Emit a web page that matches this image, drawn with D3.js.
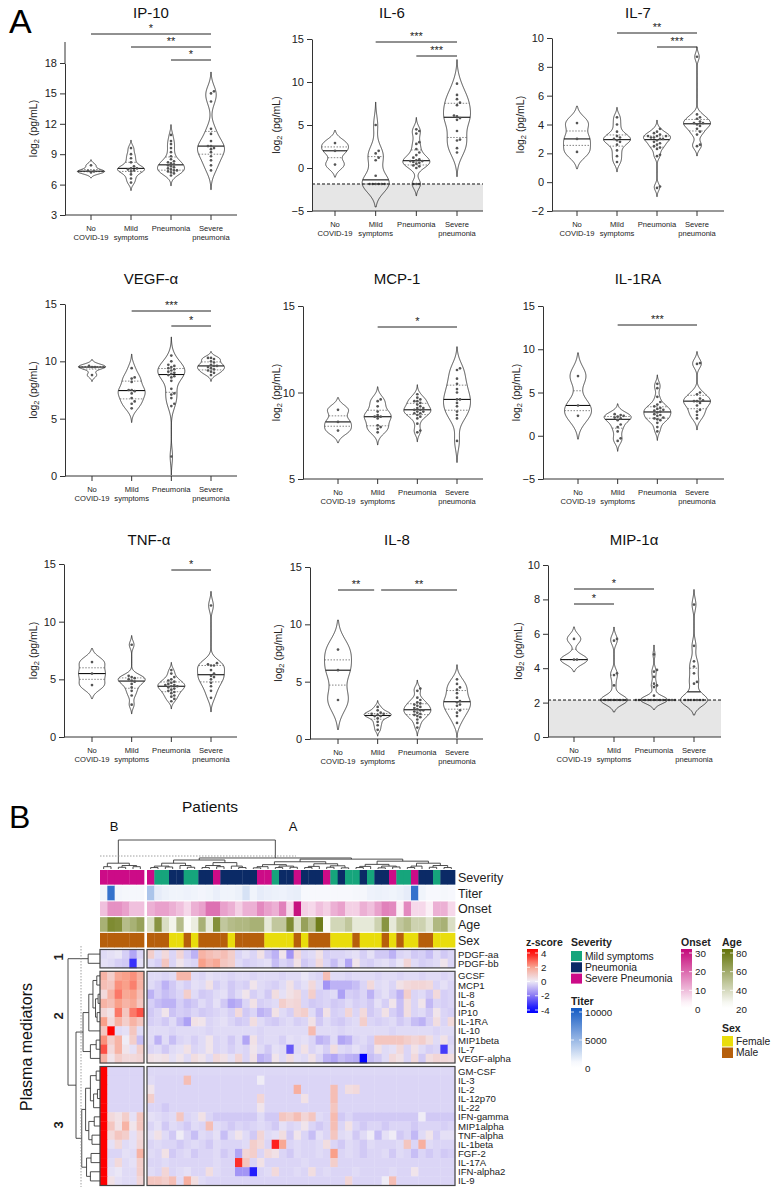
<!DOCTYPE html>
<html><head><meta charset="utf-8">
<script src="https://cdn.jsdelivr.net/npm/d3@7"></script>
<style>body{margin:0;background:#fff}svg{display:block}text{font-family:"Liberation Sans",Arial,sans-serif}</style>
</head><body><svg id="c" width="776" height="1191"></svg>
<script>
// ---------------- Panel A data ----------------
const groupLines = [["No","COVID-19"],["Mild","symptoms"],["Pneumonia"],["Severe","pneumonia"]];

const ip10 = [[7.2,7.3,7.35,7.9],
 [6.2,6.6,7.0,7.3,7.4,7.5,7.6,7.6,7.8,8.2,8.6,9.0,9.6],
 [6.9,7.1,7.2,7.3,7.4,7.4,7.5,7.6,7.7,7.8,7.9,8.0,8.1,8.2,8.3,8.5,8.8,9.2,9.6,10.0,10.3,10.9],
 [7.4,7.9,8.4,8.8,9.2,9.5,9.6,9.8,9.8,10.3,11.0,11.5,14.2,15.0,15.2]];
const il6 = [[0.4,2.0,2.9],
 [-1.86,-1.86,-1.86,-1.86,-1.86,-1.86,-0.9,0.9,1.2,1.7,2.0,5.0],
 [-1.86,-1.86,-1.86,0,0.2,0.3,0.5,0.6,0.7,0.8,0.8,0.9,1.0,1.2,1.5,1.8,2.2,2.8,3.0,4.0,4.3,4.5],
 [1.8,2.3,3.2,3.3,4.3,5.6,5.8,6.0,6.1,7.3,7.6,8.0,8.5,9.8]];
const il7 = [[2.1,3.0,4.1],
 [1.4,1.8,2.2,2.6,2.8,2.9,3.0,3.1,3.2,3.5,4.0,4.5],
 [-0.4,-0.3,1.8,1.9,2.3,2.4,2.5,2.6,2.7,2.8,2.9,3.0,3.0,3.1,3.1,3.2,3.2,3.2,3.3,3.4,3.5,3.7],
 [2.5,2.6,3.3,3.5,3.7,3.9,4.0,4.1,4.1,4.2,4.4,4.5,4.7,8.7]];
const vegf = [[8.8,9.5,9.5,9.6],
 [5.9,6.3,6.5,6.8,7.2,7.4,7.5,7.5,8.2,8.5,8.6,9.4],
 [1.7,6.1,6.3,6.8,7.1,7.2,7.6,8.3,8.6,8.7,8.8,8.9,9.0,9.1,9.2,9.3,9.4,9.5,9.6,9.7,10.0,10.5],
 [8.8,9.0,9.1,9.2,9.3,9.4,9.5,9.6,9.6,9.7,9.9,10.0,10.2,10.3,10.3]];
const mcp1 = [[7.8,8.3,9.0],
 [7.7,7.9,8.0,8.1,8.5,8.6,8.6,8.7,8.9,9.2,9.5,9.6],
 [7.7,7.8,8.2,8.5,8.6,8.7,8.8,8.8,8.9,8.9,9.0,9.0,9.1,9.1,9.2,9.3,9.4,9.5,9.5,9.6,9.7,9.9],
 [7.2,8.5,8.7,8.9,9.2,9.4,9.6,9.6,10.0,10.2,10.5,10.8,11.3,11.4]];
const il1ra = [[2.3,3.5,6.9],
 [-0.6,-0.3,0.5,1.0,1.3,1.8,2.0,2.1,2.2,2.3,2.4,2.5],
 [0.5,1.0,1.5,1.8,1.9,2.0,2.1,2.3,2.4,2.5,2.7,2.8,2.9,3.0,3.1,3.2,3.4,3.6,3.9,4.5,5.5,6.0],
 [2.0,2.4,2.8,3.0,3.5,3.8,4.0,4.0,4.1,4.3,4.8,5.0,8.3,8.4]];
const tnf = [[4.5,5.5,6.5],
 [2.8,3.6,4.0,4.3,4.6,4.8,4.9,5.0,5.1,5.2,5.3,8.0],
 [3.1,3.3,3.5,3.6,3.8,3.9,4.0,4.1,4.2,4.3,4.4,4.4,4.5,4.5,4.6,4.7,4.8,4.9,5.0,5.2,5.5,5.8],
 [3.4,4.0,4.4,4.7,5.0,5.2,5.3,5.5,5.8,6.2,6.2,6.3,6.4,11.4]];
const il8 = [[3.4,6.0,7.8],
 [0.8,1.2,1.5,1.8,2.0,2.0,2.1,2.2,2.2,2.3,2.5,2.8],
 [1.0,1.4,1.7,1.9,2.0,2.1,2.2,2.3,2.4,2.5,2.5,2.6,2.7,2.8,2.9,3.0,3.1,3.2,3.4,3.6,4.2,4.4],
 [1.4,2.0,2.3,2.5,2.9,3.0,3.2,3.3,3.6,4.0,4.3,4.5,4.8,5.2]];
const mip1a = [[4.5,4.5,5.7],
 [2.15,2.15,2.15,2.15,2.15,2.15,2.15,2.15,3.0,3.6,3.7,5.6,5.7],
 [2.15,2.15,2.15,2.15,2.15,2.15,2.15,2.15,2.15,2.15,2.15,2.15,2.15,2.15,2.4,2.9,3.0,3.1,3.5,3.8,3.9,4.8],
 [2.15,2.15,2.15,2.15,2.15,2.15,2.15,3.1,3.2,3.7,4.1,4.4,5.3,7.7]];

const sigIp10 = [[0,3,"*"],[1,3,"**"],[2,3,"*"]];
const sigIl6 = [[1,3,"***"],[2,3,"***"]];
const sigIl7 = [[1,3,"**"],[2,3,"***"]];
const sigVegf = [[1,3,"***"],[2,3,"*"]];
const sigMcp1 = [[1,3,"*"]];
const sigIl1ra = [[1,3,"***"]];
const sigTnf = [[2,3,"*"]];
const sigIl8 = [[0,1,"**"],[1,3,"**"]];
const sigMip = [[0,1,"*"],[0,2,"*"]];

// ---------------- Panel B data ----------------
const rowNames = ["PDGF-aa","PDGF-bb","GCSF","MCP1","IL-8","IL-6","IP10","IL-1RA","IL-10","MIP1beta","IL-7","VEGF-alpha",
 "GM-CSF","IL-3","IL-2","IL-12p70","IL-22","IFN-gamma","MIP1alpha","TNF-alpha","IL-1beta","FGF-2","IL-17A","IFN-alpha2","IL-9"];
const rowGroupSizes = [2,10,13];
const zRows = [
 [-0.3,-0.2,-0.1,-0.5,-1.2,-0.4, 0.8,-0.3,0.5,-0.4,0.6,-0.5,-1.0,1.5,1.2,1.0,1.2,0.8,-0.4,-0.2,-0.4,0.3,-0.6,-1.0,0.2,-1.5,0.5,-0.4,-0.3,0.3,-0.5,-0.4,-0.4,-0.3,-0.2,-0.5,-0.2,-0.6,-0.6,-1.0,-0.4,-0.3,-0.6,-0.5,-0.8,-0.3,-0.6,-0.4],
 [-0.2,-0.3,-0.5,-0.6,-3.2,-0.2, -0.3,-0.5,1.0,-0.4,0.2,-0.3,-0.4,2.0,1.5,1.8,1.0,0.8,-0.3,-0.5,-0.4,-0.3,-0.2,-0.8,-0.4,-0.6,0.3,-0.6,-0.4,0.5,-0.4,-0.8,-0.3,-1.2,0.2,-0.4,-0.5,-0.3,-0.2,-0.4,-0.1,0.6,-0.3,-0.5,-0.4,-0.3,0.2,-0.4],
 [1.5,0.8,1.8,2.0,2.2,1.6, -0.3,-0.3,-0.4,-0.3,1.4,1.4,-0.3,-0.4,-0.2,-0.3,-0.3,-0.4,-0.3,-0.3,-0.4,-0.3,-0.3,-0.3,-0.4,-0.3,-0.3,-0.1,-0.3,-0.4,1.2,-0.3,-0.3,-0.4,-0.3,-0.3,-0.3,-0.4,-0.3,-0.3,-0.4,-0.3,-0.3,-0.4,-0.3,-0.3,-0.4,-0.3],
 [1.2,1.0,2.2,2.0,2.4,1.5, -0.3,-0.5,-1.0,-0.6,-0.3,-0.5,-0.2,-0.3,0.3,-0.5,-0.3,-0.6,-0.4,-0.5,0.2,-0.3,-0.4,-0.5,-0.3,0.3,-0.4,-0.2,0.5,-0.3,-1.5,-1.0,-1.0,-1.0,-0.8,-0.4,0.5,-0.3,-0.2,-0.4,0.3,0.5,0.6,0.6,0.5,-0.4,-0.2,-0.4],
 [0.5,1.5,2.5,1.8,2.0,1.2, -1.0,-0.5,-0.8,-0.6,-0.4,0.8,-0.3,-0.6,-0.5,-0.3,-0.2,-0.6,-0.3,0.2,-0.5,-0.3,-0.6,0.4,-0.2,0.3,0.5,-0.4,0.8,-0.5,-0.4,-0.3,-1.3,-0.5,-0.6,-0.4,-1.0,-0.4,-0.2,-0.5,-1.0,0.8,-0.4,-0.3,-0.6,0.5,-0.5,-0.4],
 [1.5,1.2,2.0,1.5,1.8,1.0, -0.5,-0.8,-1.0,-1.0,-0.5,-0.8,-0.6,-0.3,-0.5,-0.2,-0.6,-1.2,-1.0,-0.4,0.3,-0.5,-0.4,-0.3,0.8,0.5,0.6,-0.4,-0.6,-0.5,-0.4,-0.6,-0.5,-0.3,-0.5,-0.4,-0.6,-0.2,-0.5,0.2,-0.8,0.4,-0.4,0.2,-0.9,-0.4,-0.5,-0.4],
 [0.6,0.3,2.5,1.0,2.5,3.0, -0.6,-0.4,0.2,-0.7,-0.5,-0.6,-0.4,-0.6,-0.5,-0.4,-0.3,-0.5,0.5,-0.6,-0.4,-1.0,-0.8,0.3,-0.3,-0.5,0.6,0.8,-0.3,-0.8,0.3,-0.5,-0.4,0.6,-0.4,0.5,-0.6,-0.4,0.3,-0.5,-0.8,0.4,-0.4,-0.3,-0.6,0.2,-0.4,-0.5],
 [2.0,0.5,1.5,0.8,1.5,1.0, -0.5,-0.4,-0.6,-0.3,-0.8,-1.3,0.3,0.2,-0.4,-0.3,-0.2,-0.4,-0.6,-0.5,0.4,-0.3,-0.5,-0.6,-0.4,-0.3,-0.5,-0.4,0.3,-0.6,-0.3,-0.5,-0.6,-0.4,-0.3,0.8,-0.4,-0.5,-0.4,-0.3,-0.6,-0.4,-0.8,-1.0,-0.5,0.4,-0.4,0.5],
 [1.0,4.0,-0.3,-0.2,1.0,-0.3, -0.3,-0.3,-0.3,-0.4,-0.3,-0.3,-0.3,-0.3,-0.4,-0.3,-0.3,-0.3,-0.3,-0.3,-0.3,-0.4,-0.3,-0.3,-0.3,-0.3,-0.3,-0.3,1.3,-0.3,-0.3,-0.3,-0.4,-0.3,-0.3,-0.3,-0.3,-0.3,-0.3,-0.4,-0.3,-0.3,-0.3,-0.3,-0.3,-0.4,-0.3,-0.3],
 [2.2,0.8,1.5,0.0,0.8,-0.8, -0.3,-1.0,-0.3,-0.8,-0.4,-0.3,-0.5,-0.3,0.2,-0.4,-0.3,-0.6,-0.3,-1.2,0.3,-0.4,-0.3,-0.3,-0.5,-0.2,-0.3,-0.2,-0.4,-1.0,-0.8,-0.3,-1.2,-1.0,-0.4,-0.3,-0.5,1.0,1.0,1.0,1.0,0.8,0.6,0.8,0.4,-0.3,0.3,-0.4],
 [3.0,0.5,1.5,0.2,-0.2,0.8, -0.4,-0.3,-0.6,-0.3,-0.2,0.3,-0.4,-0.3,0.2,-0.4,-0.3,-0.5,-0.3,-0.4,0.2,-0.3,-0.6,-0.2,-0.3,-2.5,-0.3,0.3,-0.4,-0.2,-0.5,0.4,-0.3,-0.4,-0.2,-0.4,-0.6,0.3,-0.3,-0.2,0.5,-0.4,0.3,-0.3,-0.5,-0.4,-3.0,-0.3],
 [1.5,0.2,0.8,0.5,0.5,0.6, 0.3,0.2,0.3,-0.2,0.2,-0.3,0.4,0.2,-0.3,0.5,0.3,-0.2,0.6,-0.4,0.3,-1.0,-0.8,0.2,-0.3,0.4,-0.2,-0.3,0.3,-0.4,-1.0,-1.2,-0.8,-1.0,-1.1,-4.0,-0.8,-0.6,-0.3,0.5,0.3,-0.4,0.5,-0.6,0.4,0.6,0.5,0.4],
 [4,-0.4,-0.4,-0.4,-0.4,-0.4, -0.35,-0.35,-0.35,-0.35,-0.35,-0.35,-0.35,-0.35,-0.35,-0.35,-0.35,-0.35,-0.35,-0.35,-0.35,-0.35,-0.35,-0.35,-0.35,-0.35,-0.35,-0.35,-0.35,-0.35,-0.35,-0.35,-0.35,-0.35,-0.35,-0.35,-0.35,-0.35,-0.35,-0.35,-0.35,-0.35,-0.35,-0.35,-0.35,-0.35,-0.35,-0.35],
 [4,-0.4,-0.4,-0.4,-0.4,-0.4, -0.3,-0.4,-0.4,-0.4,-0.4,1.2,-0.4,-0.4,-0.4,-0.4,-0.4,-0.4,-0.4,-0.4,-0.4,0.0,-0.4,-0.4,-0.4,-0.4,-0.4,-0.4,-0.4,-0.4,-0.4,-0.4,-0.4,-0.4,-0.4,-0.4,-0.4,-0.4,-0.4,-0.4,-0.4,-0.4,-0.4,-0.4,-0.4,-0.4,-0.4,-0.4],
 [4,-0.4,-0.4,-0.4,-0.4,-0.4, 0.2,-0.4,-0.4,-0.4,-0.4,-0.4,-0.4,-0.4,-0.4,-0.4,-0.4,-0.4,-0.4,-0.4,-0.4,-0.4,-0.4,-0.4,-0.4,-0.4,1.6,-0.4,-0.4,-0.4,-0.4,1.2,-0.4,0.4,0.5,-0.4,-0.4,-0.4,-0.4,-0.4,-0.4,-0.4,-0.4,-0.4,-0.4,-0.4,-0.4,-0.4],
 [4,-0.4,-0.4,-0.4,-0.4,-0.4, 0.8,-0.4,-0.4,-0.4,-0.4,-0.4,-0.4,-0.4,-0.4,-0.4,-0.4,-0.4,-0.4,-0.4,-0.4,0.6,-0.4,-0.4,-0.4,-0.4,-0.4,0.3,-0.4,-0.4,-0.4,1.2,-0.4,-0.4,-0.4,-0.4,-0.4,-0.4,-0.4,-0.4,-0.4,-0.4,-0.4,-0.4,-0.4,-0.4,-0.4,-0.4],
 [4,-0.4,-0.4,-0.4,-0.4,-0.4, -0.4,-0.4,-0.6,-0.4,-0.4,-0.4,-0.4,-0.4,-0.4,-0.4,-0.4,-0.4,-0.4,-0.4,-0.4,0.2,-0.4,-0.4,-0.4,-0.4,-0.4,-0.4,-0.4,-0.4,-0.4,1.0,-0.4,-0.4,-0.4,-0.4,-0.4,-0.4,-0.4,-0.4,-0.4,-0.4,-0.4,-0.4,-0.4,-0.4,-0.4,-0.4],
 [4,0.5,0.3,0.8,-0.2,1.0, -0.2,-0.3,-0.4,-0.3,1.0,-0.4,-0.3,0.3,-0.4,-0.6,-0.6,-0.6,-0.6,-0.6,-0.6,-0.3,-0.6,-0.6,1.0,0.8,1.2,0.6,1.0,-0.3,-0.4,1.3,-0.6,-0.4,-0.6,-0.6,-0.6,-0.6,-0.6,-0.6,-0.6,-0.6,-0.6,0.0,-0.6,-0.6,-0.6,-0.6],
 [4,1.0,0.3,1.5,0.2,1.0, -0.4,-0.2,-0.6,-0.3,-0.4,-0.6,-0.3,-0.4,1.2,-0.3,-0.4,-0.6,-0.4,-0.5,-0.4,-0.3,-0.4,-0.6,-0.2,-0.4,-0.3,0.2,-0.4,-0.6,-0.4,1.2,-0.4,0.3,-0.4,-0.6,-0.4,-0.4,-0.6,-0.4,-0.4,-0.4,-0.6,-0.4,-0.4,-0.4,-0.5,-0.4],
 [4,0.5,1.0,0.8,-0.2,0.5, -0.2,0.3,-0.3,-0.6,0.0,-0.4,-0.8,-0.3,-0.4,-0.2,-0.8,-0.3,0.2,-0.3,-0.6,0.6,-0.3,-0.2,0.4,-0.6,0.2,-0.4,-0.8,-0.2,-0.4,1.0,-0.3,-0.2,-0.6,-0.3,0.0,-0.8,-0.2,0.0,-0.6,-0.4,-0.9,-0.3,0.2,-0.5,-0.2,-0.2],
 [4,-0.2,0.5,-0.3,-0.2,0.6, -0.4,-0.3,-0.4,-0.4,-0.6,-0.4,-0.3,-0.4,-0.6,-0.3,-0.4,-0.4,-0.4,-0.3,0.8,0.5,-0.4,3.6,1.8,-0.4,-0.3,-0.4,-0.4,-0.3,0.4,-0.4,-0.6,-0.3,-0.4,-0.6,-0.3,-0.4,-0.4,-0.4,-0.3,1.0,-0.4,1.6,-0.3,-0.4,-0.4,-0.4],
 [4,-0.4,-0.4,-0.2,-0.3,1.5, -0.3,-0.4,0.3,-0.6,-0.4,-0.3,-0.6,-0.4,-0.4,-0.3,-0.6,-0.4,-1.2,0.6,0.8,-0.4,0.5,0.3,-0.4,-0.6,-0.3,-0.4,-0.4,-0.3,-0.4,2.0,-0.4,-0.3,-0.4,-0.6,-0.4,-0.4,-0.3,-0.6,-0.3,-0.4,-0.8,-0.4,-0.6,-0.4,-0.6,-0.5],
 [4,-0.3,0.5,-0.3,-0.2,0.8, -0.4,-0.4,-0.3,-0.4,-0.4,-0.4,-0.4,-0.4,-0.4,-0.3,-0.4,-0.4,3.4,1.0,-0.4,0.3,-0.4,-0.4,-0.4,-0.4,-0.4,-0.3,-0.4,-0.4,-0.4,0.8,-0.4,-0.4,-0.4,-0.4,-0.4,-0.4,-0.4,-0.4,-0.4,-0.4,-0.4,-0.4,-0.4,-0.4,-0.4,-0.4],
 [4,-0.2,-0.1,-0.3,-0.3,0.8, -0.3,-0.4,0.6,-0.4,-0.3,-0.2,-0.4,-0.4,0.4,-0.3,-0.4,-0.4,-1.5,-1.5,-3.5,-0.4,-0.3,0.5,-0.4,-0.4,-0.3,-0.4,0.4,-0.4,-0.3,-0.4,-0.4,-0.4,-0.3,-0.4,-0.4,-0.4,-0.4,-0.3,-0.4,-0.4,0.2,-0.4,-0.4,-0.4,-0.4,-0.4],
 [4,0.3,-0.2,-0.3,-0.3,0.6, 1.0,1.0,0.8,1.2,-0.3,1.6,0.4,-0.3,-0.4,-0.4,-0.4,-0.4,-0.4,-0.4,-0.4,-0.4,-0.4,-0.4,-0.4,-0.4,-0.4,-0.4,-0.4,-0.4,-0.4,-0.4,-0.4,0.6,-0.4,-0.4,-0.4,-0.4,0.0,1.2,-0.4,-0.4,-0.4,-0.4,-0.4,-0.4,-0.4,-0.4]
];
// annotations (48 patients: 6 in cluster B, 42 in cluster A)
const severityNames = ["Mild symptoms","Pneumonia","Severe Pneumonia"];
const severity = [2,2,2,2,2,2, 2,0,0,1,1,0,0,1,1,2,1,1,1,1,1,2,2,0,1,1,2,1,1,1,2,0,1,0,0,1,0,1,1,2,0,0,2,1,1,0,1,1];
const titer = [300,9000,200,100,100,100, 3500,800,500,300,300,400,300,200,300,600,300,300,500,1500,300,800,600,500,400,600,700,0,0,0,0,0,0,0,100,100,400,500,400,300,500,800,9000,300,0,0,100,0];
const onset = [8,14,14,12,8,8, 10,12,12,10,8,5,10,12,18,18,12,10,6,10,10,15,12,10,16,5,30,6,5,8,6,10,12,6,6,10,8,12,16,15,2,15,5,5,2,10,10,5];
const age = [55,72,70,50,55,62, 35,68,35,25,50,22,28,55,30,70,45,50,52,52,55,55,30,45,45,72,35,62,50,78,22,38,38,45,30,30,30,40,68,30,45,50,40,40,32,52,55,35];
const sexNames = ["Female","Male"];
const sex = [1,1,1,1,1,1, 1,1,1,0,0,1,0,1,1,1,1,0,1,1,1,1,0,0,0,0,1,0,1,1,1,0,0,0,1,0,0,0,1,0,1,0,0,1,1,0,0,0];
// dendrograms: [height, left, right]; leaves = index
const colTree = [1.0,
  [0.2,[0.08,0,1],[0.12,[0.06,2,3],[0.08,4,5]]],
  [0.38,
    [0.31,[0.2,[0.1,[0.05,6,7],[0.07,8,9]],[0.12,10,[0.06,11,12]]],[0.22,[0.12,[0.05,13,14],[0.08,15,16]],[0.1,17,[0.05,18,19]]]],
    [0.34,
      [0.25,[0.15,[0.08,[0.04,20,21],22],[0.1,[0.05,23,24],[0.06,25,26]]],[0.18,[0.09,[0.05,27,28],29],[0.11,[0.06,30,31],[0.04,32,33]]]],
      [0.27,[0.16,[0.09,[0.05,34,35],36],[0.1,[0.04,37,38],[0.07,39,40]]],[0.2,[0.1,[0.05,41,42],43],[0.12,[0.06,44,45],[0.05,46,47]]]]]]];
const rowTree = [1.0,
  [0.37,0,1],
  [0.75,
    [0.53,[0.35,[0.22,[0.1,2,3],[0.14,[0.06,4,5],[0.09,6,7]]],8],[0.3,[0.12,9,10],11]],
    [0.57,[0.45,[0.3,[0.12,12,13],[0.2,[0.08,14,15],16]],[0.35,[0.18,17,18],[0.25,19,20]]],[0.42,[0.28,21,22],[0.3,23,24]]]]];

// ---------------- drawing ----------------
const svg = d3.select("#c");

function bandwidth(v, scale){
  const s = d3.deviation(v) || 0.4;
  const so = [...v].sort(d3.ascending);
  const iqr = (d3.quantile(so,.75)-d3.quantile(so,.25))/1.34;
  const a = iqr>0 ? Math.min(s,iqr) : s;
  return Math.max(0.78*(scale||1)*a*Math.pow(v.length,-0.2), 0.22);
}

const panels = [
 {title:"IP-10", data:ip10, domain:[3,18], ticks:[3,6,9,12,15,18], axisX:65, cats:[91,211], endX:237, yTop:63, yBot:215, lineTop:42, titleX:151, titleY:18, ytOff:32, sig:sigIp10, sigY:[34,47,60]},
 {title:"IL-6", data:il6, domain:[-5,15], ticks:[-5,0,5,10,15], axisX:312, cats:[335,457], endX:483, yTop:39, yBot:211, titleX:392, titleY:18, ytOff:36, sig:sigIl6, sigY:[42,56], lod:-1.86},
 {title:"IL-7", data:il7, domain:[-2,10], ticks:[-2,0,2,4,6,8,10], axisX:552, cats:[577,697], endX:724, yTop:38, yBot:211, titleX:638, titleY:18, ytOff:32, sig:sigIl7, sigY:[33,47]},
 {title:"VEGF-α", data:vegf, domain:[0,15], ticks:[0,5,10,15], axisX:65, cats:[92,211], endX:237, yTop:304, yBot:476, titleX:151, titleY:284, ytOff:32, sig:sigVegf, sigY:[311,326]},
 {title:"MCP-1", data:mcp1, domain:[5,15], ticks:[5,10,15], axisX:303, cats:[338,457], endX:483, yTop:306, yBot:479, titleX:397, titleY:284, ytOff:27, sig:sigMcp1, sigY:[327]},
 {title:"IL-1RA", data:il1ra, domain:[-5,15], ticks:[-5,0,5,10,15], axisX:543, cats:[578,697], endX:724, yTop:306, yBot:479, titleX:638, titleY:284, ytOff:27, sig:sigIl1ra, sigY:[325]},
 {title:"TNF-α", data:tnf, domain:[0,15], ticks:[0,5,10,15], axisX:64, cats:[92,211], endX:237, yTop:564, yBot:737, titleX:149, titleY:545, ytOff:31, sig:sigTnf, sigY:[570]},
 {title:"IL-8", data:il8, domain:[0,15], ticks:[0,5,10,15], axisX:310, cats:[338,457], endX:483, yTop:567, yBot:739, titleX:397, titleY:545, ytOff:32, sig:sigIl8, sigY:[590,590], sigInset:[[0,3.5],[3.5,0]]},
 {title:"MIP-1α", data:mip1a, domain:[0,10], ticks:[0,2,4,6,8,10], axisX:548, cats:[574,694], endX:721, yTop:565, yBot:737, titleX:634, titleY:545, ytOff:30, sig:sigMip, sigY:[604,589], lod:2.15, bwScale:0.55}
];

function drawPanel(p){
  const g = svg.append("g");
  const ys = d3.scaleLinear().domain(p.domain).range([p.yBot,p.yTop]);
  const xs = d3.scalePoint().domain(d3.range(4)).range(p.cats);
  if (p.lod!=null){
    g.append("rect").attr("x",p.axisX).attr("y",ys(p.lod)).attr("width",p.endX-p.axisX)
     .attr("height",p.yBot-ys(p.lod)).attr("fill","#e6e6e6");
  }
  p.data.forEach((vals,i)=>{
    const cx = xs(i);
    const bw = bandwidth(vals, i===0?1:p.bwScale);
    const lo = Math.max(d3.min(vals)-2.5*bw, p.domain[0]);
    const hi = Math.min(d3.max(vals)+2.5*bw, p.domain[1]+3);
    const n = 200;
    const dens = y => d3.mean(vals, v=>Math.exp(-0.5*((y-v)/bw)**2));
    const pts = d3.range(n+1).map(k=>{ const y = lo+(hi-lo)*k/n; return [y, dens(y)]; });
    const mx = d3.max(pts,d=>d[1]);
    const W = 13.5;
    const wAt = y => W*dens(y)/mx;
    const area = d3.area().y(d=>ys(d[0])).x0(d=>cx-W*d[1]/mx).x1(d=>cx+W*d[1]/mx).curve(d3.curveBasis);
    g.append("path").attr("d",area(pts)).attr("fill","none").attr("stroke","#222").attr("stroke-width",0.8);
    const so=[...vals].sort(d3.ascending);
    const q1=d3.quantile(so,.25), md=d3.median(so), q3=d3.quantile(so,.75);
    [[q1,true],[q3,true],[md,false]].forEach(([q,dot])=>{
      const w=wAt(q);
      g.append("line").attr("x1",cx-w).attr("x2",cx+w).attr("y1",ys(q)).attr("y2",ys(q))
       .attr("stroke",dot?"#666":"#111").attr("stroke-width",dot?0.8:1.1)
       .attr("stroke-dasharray",dot?"1.5,1.5":null);
    });
    const placed=[];
    so.forEach(v=>{
      const py=ys(v); let off=0;
      for(let k=0;k<40;k++){
        const cand = k===0?0:(k%2? 1:-1)*Math.ceil(k/2)*3;
        if(!placed.some(q=>Math.hypot(q[0]-cand,q[1]-py)<2.9)){off=cand;break;}
      }
      placed.push([off,py]);
      g.append("circle").attr("cx",cx+off).attr("cy",py).attr("r",1.35).attr("fill","#555");
    });
  });
  if (p.lod!=null){
    g.append("line").attr("x1",p.axisX).attr("x2",p.endX).attr("y1",ys(p.lod)).attr("y2",ys(p.lod))
     .attr("stroke","#111").attr("stroke-width",1).attr("stroke-dasharray","3,2");
  }
  const ya = g.append("g").attr("transform",`translate(${p.axisX},0)`)
    .call(d3.axisLeft(ys).tickValues(p.ticks).tickSize(5).tickSizeOuter(0).tickFormat(d3.format("d")));
  ya.selectAll("text").attr("font-size",11).attr("fill","#222").attr("font-family",'"Liberation Sans",Arial,sans-serif');
  ya.selectAll("line,path").attr("stroke","#333");
  if (p.lineTop!=null) g.append("line").attr("x1",p.axisX).attr("x2",p.axisX).attr("y1",p.lineTop).attr("y2",p.yTop).attr("stroke","#333");
  g.append("line").attr("x1",p.axisX).attr("x2",p.endX).attr("y1",p.yBot).attr("y2",p.yBot).attr("stroke","#333");
  d3.range(4).forEach(i=>{
    g.append("line").attr("x1",xs(i)).attr("x2",xs(i)).attr("y1",p.yBot).attr("y2",p.yBot+5).attr("stroke","#333");
    groupLines[i].forEach((t,j)=>{
      g.append("text").attr("x",xs(i)).attr("y",p.yBot+16+j*9).attr("text-anchor","middle")
       .attr("font-size",7.6).attr("fill","#222").text(t);
    });
  });
  g.append("text").attr("x",p.titleX).attr("y",p.titleY).attr("text-anchor","middle").attr("font-size",15).attr("fill","#111").text(p.title);
  const yMid = ((p.lineTop!=null?p.lineTop:p.yTop)+p.yBot)/2;
  const yt = g.append("text").attr("transform",`translate(${p.axisX-p.ytOff},${yMid}) rotate(-90)`)
    .attr("text-anchor","middle").attr("dominant-baseline","central").attr("font-size",10.5).attr("fill","#222");
  yt.append("tspan").text("log");
  yt.append("tspan").attr("font-size",7.5).attr("dy",3).text("2");
  yt.append("tspan").attr("dy",-3).text(" (pg/mL)");
  p.sig.forEach(([a,b,lab],k)=>{
    const ins = p.sigInset? p.sigInset[k]:[0,0];
    const x1=xs(a)+ins[0], x2=xs(b)-ins[1], y=p.sigY[k];
    g.append("line").attr("x1",x1).attr("x2",x2).attr("y1",y).attr("y2",y).attr("stroke","#222").attr("stroke-width",1);
    g.append("text").attr("x",(x1+x2)/2).attr("y",y-2.5).attr("text-anchor","middle").attr("font-size",11).attr("fill","#222").text(lab);
  });
}
panels.forEach(drawPanel);

svg.append("text").attr("x",9).attr("y",33).attr("font-size",34).attr("fill","#000").text("A");
svg.append("text").attr("x",9).attr("y",828).attr("font-size",32).attr("fill","#000").text("B");

// ---------- heatmap ----------
const leftX = d3.scaleLinear().domain([0,6]).range([100,144]);
const rightX = d3.scaleLinear().domain([0,42]).range([147,455]);
const colX = i => i<6 ? leftX(i) : rightX(i-6);
const colW = i => i<6 ? leftX(1)-leftX(0) : rightX(1)-rightX(0);
const groupRanges = [[949.5,967.9],[971.3,1063],[1066.5,1185.5]];
const rowPos = [];
rowGroupSizes.forEach((n,gi)=>{
  const s=d3.scaleLinear().domain([0,n]).range(groupRanges[gi]);
  for(let k=0;k<n;k++) rowPos.push({y:s(k),h:s(1)-s(0),g:gi});
});
const zColor = d3.scaleLinear().domain([-4,-2,0,2,4]).range(["#0000ff","#8a78f4","#efecf6","#f9a08a","#ff0000"]).clamp(true);
const hm = svg.append("g");
zRows.forEach((row,ri)=>{
  row.forEach((v,ci)=>{
    hm.append("rect").attr("x",colX(ci)).attr("y",rowPos[ri].y).attr("width",colW(ci)+0.35).attr("height",rowPos[ri].h+0.35)
      .attr("fill",zColor(v));
  });
  hm.append("text").attr("x",458).attr("y",rowPos[ri].y+rowPos[ri].h/2).attr("dominant-baseline","central")
    .attr("font-size",9.6).attr("fill","#222").text(rowNames[ri]);
});
groupRanges.forEach(gr=>{
  [[100,144],[147,455]].forEach(xr=>{
    hm.append("rect").attr("x",xr[0]).attr("y",gr[0]).attr("width",xr[1]-xr[0]).attr("height",gr[1]-gr[0])
      .attr("fill","none").attr("stroke","#444").attr("stroke-width",1.2);
  });
});

const sevColor = d3.scaleOrdinal().domain([0,1,2]).range(["#16a57c","#0b2a66","#cc0b87"]);
const titerColor = d3.scaleLinear().domain([0,10000]).range(["#f7f8fd","#1e62c6"]);
const onsetColor = d3.scaleLinear().domain([0,30]).range(["#ffffff","#c7137f"]);
const ageColor = d3.scaleLinear().domain([20,80]).range(["#ffffff","#6a7913"]);
const sexColor = d3.scaleOrdinal().domain([0,1]).range(["#e9dd0c","#b65f0b"]);
const annRows = [["Severity",severity,sevColor],["Titer",titer,titerColor],["Onset",onset,onsetColor],["Age",age,ageColor],["Sex",sex,sexColor]];
const annY = d3.scaleBand().domain(d3.range(5)).range([870,947.5]).paddingInner(0.07);
annRows.forEach(([name,vals,col],ai)=>{
  vals.forEach((v,ci)=>{
    hm.append("rect").attr("x",colX(ci)).attr("y",annY(ai)).attr("width",colW(ci)+0.35).attr("height",annY.bandwidth())
      .attr("fill",col(v));
  });
  hm.append("text").attr("x",458).attr("y",annY(ai)+annY.bandwidth()/2+0.5).attr("dominant-baseline","central")
    .attr("font-size",12.5).attr("fill","#222").text(name);
});

function drawDendro(tree, leafPos, hPos, vertical, g){
  const root = d3.hierarchy(tree, d=>Array.isArray(d)? d.slice(1):null);
  root.eachAfter(n=>{
    if(!n.children){ n.p = leafPos(n.data); n.h = 0; }
    else { n.p = d3.mean(n.children,c=>c.p); n.h = n.data[0]; }
  });
  root.each(n=>{
    if(!n.children) return;
    const ps = n.children.map(c=>c.p);
    const hp = hPos(n.h);
    if(vertical){
      g.append("line").attr("x1",d3.min(ps)).attr("x2",d3.max(ps)).attr("y1",hp).attr("y2",hp);
      n.children.forEach(c=>g.append("line").attr("x1",c.p).attr("x2",c.p).attr("y1",hp).attr("y2",hPos(c.h)));
    } else {
      g.append("line").attr("y1",d3.min(ps)).attr("y2",d3.max(ps)).attr("x1",hp).attr("x2",hp);
      n.children.forEach(c=>g.append("line").attr("y1",c.p).attr("y2",c.p).attr("x1",hp).attr("x2",hPos(c.h)));
    }
  });
}
const dg = svg.append("g").attr("stroke","#3a3a3a").attr("stroke-width",0.9).attr("fill","none");
const colH = d3.scaleLinear().domain([0,1]).range([869,840]);
drawDendro(colTree, i=>colX(i)+colW(i)/2, colH, true, dg);
const rowH = d3.scaleLinear().domain([0,1]).range([100,68]);
drawDendro(rowTree, r=>rowPos[r].y+rowPos[r].h/2, rowH, false, dg);
svg.append("line").attr("x1",100).attr("x2",296).attr("y1",856).attr("y2",856).attr("stroke","#888").attr("stroke-width",0.8).attr("stroke-dasharray","1.5,1.5");
svg.append("line").attr("x1",81).attr("x2",81).attr("y1",946).attr("y2",1187).attr("stroke","#888").attr("stroke-width",0.8).attr("stroke-dasharray","1.5,1.5");

svg.append("text").attr("x",210).attr("y",812).attr("text-anchor","middle").attr("font-size",15.5).attr("fill","#111").text("Patients");
svg.append("text").attr("x",114).attr("y",831).attr("text-anchor","middle").attr("font-size",13).attr("fill","#111").text("B");
svg.append("text").attr("x",293).attr("y",831).attr("text-anchor","middle").attr("font-size",13).attr("fill","#111").text("A");
svg.append("text").attr("transform","translate(26,1047) rotate(-90)").attr("text-anchor","middle").attr("dominant-baseline","central")
  .attr("font-size",16).attr("fill","#111").text("Plasma mediators");
[["1",957],["2",1016],["3",1125]].forEach(([t,y])=>{
  svg.append("text").attr("transform",`translate(58,${y}) rotate(-90)`).attr("text-anchor","middle").attr("dominant-baseline","central")
    .attr("font-size",13).attr("font-weight","bold").attr("fill","#222").text(t);
});

const lg = svg.append("g");
const defs = svg.append("defs");
function gradBar(id, x, y0, y1, colorFn, vTop, vBot){
  const gr = defs.append("linearGradient").attr("id",id).attr("x1",0).attr("x2",0).attr("y1",0).attr("y2",1);
  d3.range(11).forEach(k=>{
    gr.append("stop").attr("offset",k/10).attr("stop-color",colorFn(vTop+(vBot-vTop)*k/10));
  });
  lg.append("rect").attr("x",x).attr("y",y0).attr("width",11).attr("height",y1-y0).attr("fill",`url(#${id})`);
}
function ticksLabels(x, scale, vals){
  vals.forEach(v=>{
    lg.append("line").attr("x1",x).attr("x2",x+3).attr("y1",scale(v)).attr("y2",scale(v)).attr("stroke","#fff").attr("stroke-width",0.8);
    lg.append("line").attr("x1",x+8).attr("x2",x+11).attr("y1",scale(v)).attr("y2",scale(v)).attr("stroke","#fff").attr("stroke-width",0.8);
    lg.append("text").attr("x",x+14).attr("y",scale(v)).attr("dominant-baseline","central").attr("font-size",9.8).attr("fill","#222").text(v);
  });
}
function legTitle(x,y,t){ lg.append("text").attr("x",x).attr("y",y).attr("font-size",10.5).attr("font-weight","bold").attr("fill","#222").text(t); }
legTitle(526,946,"z-score");
const zs = d3.scaleLinear().domain([4,-4]).range([953,1010]);
gradBar("gz",527,949,1013,zColor,4.3,-4.3);
ticksLabels(527,zs,[4,2,0,-2,-4]);
legTitle(571,946,"Severity");
severityNames.forEach((n,k)=>{
  lg.append("rect").attr("x",571).attr("y",951+k*11.3).attr("width",11).attr("height",10).attr("fill",sevColor(k));
  lg.append("text").attr("x",585).attr("y",956+k*11.3).attr("dominant-baseline","central").attr("font-size",10.3).attr("fill","#222").text(n);
});
legTitle(571,1005,"Titer");
const ts = d3.scaleLinear().domain([10000,0]).range([1012,1068]);
gradBar("gt",571,1008,1068,d3.scaleLinear().domain([0,10000]).range(["#ffffff","#1e62c6"]),10500,-700);
ticksLabels(571,ts,[10000,5000,0]);
legTitle(681,946,"Onset");
const os = d3.scaleLinear().domain([30,0]).range([953,1009]);
gradBar("go",681,949,1008,onsetColor,31.5,-1.5);
ticksLabels(681,os,[30,20,10,0]);
legTitle(722,946,"Age");
const as = d3.scaleLinear().domain([80,20]).range([953,1009]);
gradBar("ga",722,949,1008,ageColor,83,17);
ticksLabels(722,as,[80,60,40,20]);
legTitle(722,1032,"Sex");
sexNames.forEach((n,k)=>{
  lg.append("rect").attr("x",722).attr("y",1036+k*11.5).attr("width",11).attr("height",10.5).attr("fill",sexColor(k));
  lg.append("text").attr("x",736).attr("y",1041+k*11.5).attr("dominant-baseline","central").attr("font-size",10.3).attr("fill","#222").text(n);
});
</script></body></html>
